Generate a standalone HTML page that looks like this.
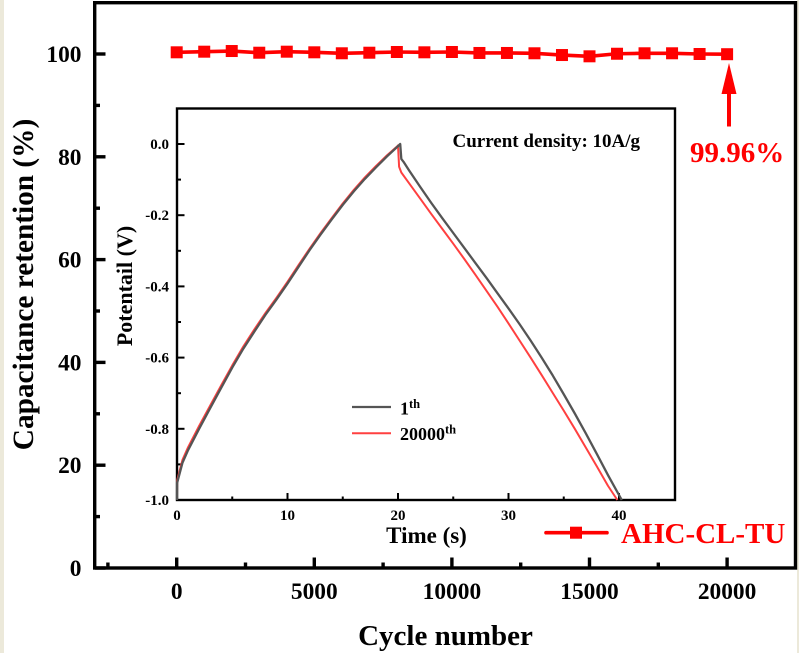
<!DOCTYPE html>
<html lang="en">
<head>
<meta charset="utf-8">
<title>Capacitance retention chart</title>
<style>
html,body{margin:0;padding:0;background:#fff;width:799px;height:653px;overflow:hidden}
svg{display:block;filter:blur(0.35px)}
text{font-family:"Liberation Serif",serif;font-weight:bold;fill:#000}
</style>
</head>
<body>
<svg id="chart" xmlns="http://www.w3.org/2000/svg" width="799" height="653" viewBox="0 0 799 653">
  <rect x="0" y="0" width="799" height="653" fill="#ffffff"/>
  <rect x="0" y="0" width="4" height="653" fill="#ece9da"/>
  <rect x="797" y="0" width="2" height="653" fill="#ece9da"/>
  <g id="main-axes"></g>
  <g id="main-series"></g>
  <g id="inset"></g>

  <text transform="translate(33,284.5) rotate(-90)" text-anchor="middle" font-size="29.3">Capacitance retention (%)</text>
  <text x="445.5" y="645" text-anchor="middle" font-size="29">Cycle number</text>

  <polygon points="729,63 736.5,94 721.5,94" fill="#ff0000"/>
  <rect x="727" y="93" width="4" height="33.5" fill="#ff0000"/>
  <text x="690" y="162" font-size="29" style="fill:#ff0000">99.96%</text>

  <line x1="546" y1="532.7" x2="607" y2="532.7" stroke="#ff0000" stroke-width="3.6" stroke-linecap="round"/>
  <rect x="570" y="526.7" width="12" height="12" fill="#ff0000"/>
  <text x="621" y="543" font-size="29" style="fill:#ff0000">AHC-CL-TU</text>

  <text transform="translate(132,286) rotate(-90)" text-anchor="middle" font-size="22">Potentail (V)</text>
  <text x="426.5" y="543" text-anchor="middle" font-size="23">Time (s)</text>
  <text x="452.5" y="147" font-size="19">Current density: 10A/g</text>

  <line x1="352" y1="407" x2="391" y2="407" stroke="#555555" stroke-width="2.3"/>
  <text x="400" y="414.3" font-size="18">1<tspan dy="-6.5" font-size="12.5">th</tspan></text>
  <line x1="352" y1="433.3" x2="391" y2="433.3" stroke="#ff4040" stroke-width="2"/>
  <text x="400" y="440" font-size="18">20000<tspan dy="-6.5" font-size="12.5">th</tspan></text>
</svg>
<script>
// Main chart data
const cycleNumbers = [0,1000,2000,3000,4000,5000,6000,7000,8000,9000,10000,11000,12000,13000,14000,15000,16000,17000,18000,19000,20000];
const retentionValues = [100.33,100.45,100.58,100.25,100.45,100.33,100.14,100.25,100.39,100.33,100.39,100.2,100.2,100.14,99.8,99.55,100.05,100.14,100.14,100,99.96];
const mainXMajorTicks = [0,5000,10000,15000,20000];
const mainXMinorTicks = [-2500,2500,7500,12500,17500];
const mainYMajorTicks = [0,20,40,60,80,100];
const mainYMinorTicks = [10,30,50,70,90];

// Inset chart data
const firstCycleTime = [0,0.01,0.5,1,2,3,4,5,6,7,8,9,10,11,12,13,14,15,16,17,18,19,20,20.2,20.3,20.5,21,22,23,24,25,26,27,28,29,30,31,32,33,34,35,36,37,38,39,40.25];
const firstCycleVoltage = [-1.0,-0.952,-0.895,-0.86,-0.8,-0.742,-0.685,-0.628,-0.575,-0.527,-0.48,-0.437,-0.392,-0.345,-0.298,-0.254,-0.212,-0.171,-0.133,-0.098,-0.066,-0.035,-0.006,0.0,-0.042,-0.05,-0.074,-0.12,-0.165,-0.208,-0.25,-0.292,-0.334,-0.376,-0.419,-0.462,-0.506,-0.552,-0.6,-0.65,-0.703,-0.757,-0.813,-0.871,-0.93,-1.0];
const lastCycleTime = [0,0.01,0.5,1,2,3,4,5,6,7,8,9,10,11,12,13,14,15,16,17,18,19,19.95,20.0,20.1,20.3,21,22,23,24,25,26,27,28,29,30,31,32,33,34,35,36,37,38,39,39.85];
const lastCycleVoltage = [-0.99,-0.945,-0.887,-0.852,-0.792,-0.735,-0.678,-0.622,-0.569,-0.521,-0.475,-0.432,-0.387,-0.34,-0.294,-0.25,-0.208,-0.167,-0.129,-0.094,-0.062,-0.032,-0.006,-0.004,-0.064,-0.08,-0.11,-0.153,-0.196,-0.238,-0.28,-0.323,-0.367,-0.412,-0.457,-0.504,-0.552,-0.6,-0.649,-0.699,-0.749,-0.8,-0.853,-0.906,-0.96,-1.0];
const insetXMajorTicks = [0,10,20,30,40];
const insetXMinorTicks = [5,15,25,35];
const insetYMajorTicks = [0,-0.2,-0.4,-0.6,-0.8,-1];
const insetYMinorTicks = [-0.1,-0.3,-0.5,-0.7,-0.9];
const insetYLabels = ['0.0','-0.2','-0.4','-0.6','-0.8','-1.0'];

const NS = 'http://www.w3.org/2000/svg';
function xMain(d){ return 176.7 + d * 0.02752; }
function yMain(v){ return 568 - v * 5.14; }
function xInset(t){ return 177 + t * 11.05; }
function yInset(v){ return 144 - v * 356; }

function make(tag, attrs, parent){
  const el = document.createElementNS(NS, tag);
  for (const k in attrs) el.setAttribute(k, attrs[k]);
  parent.appendChild(el);
  return el;
}

const mainAxes = document.getElementById('main-axes');
const mainSeries = document.getElementById('main-series');
const inset = document.getElementById('inset');

// Main frame
const mainFrame = make('rect', {x:94.7, y:2.7, width:700.8, height:565.3, fill:'none', stroke:'#000', 'stroke-width':3.4}, mainAxes);



// Main x ticks
mainXMajorTicks.forEach(function(d){
  const tick = make('line', {x1:xMain(d), x2:xMain(d), y1:568, y2:557.5, stroke:'#000', 'stroke-width':3.4}, mainAxes);
  
  
  const label = make('text', {x:xMain(d), y:599, 'text-anchor':'middle', 'font-size':23.4}, mainAxes);
  label.textContent = String(d);
  
  
});
mainXMinorTicks.forEach(function(d){
  const tick = make('line', {x1:xMain(d), x2:xMain(d), y1:568, y2:562.5, stroke:'#000', 'stroke-width':3.4}, mainAxes);
  
  
});

// Main y ticks
mainYMajorTicks.forEach(function(v){
  const tick = make('line', {x1:95, x2:105.5, y1:yMain(v), y2:yMain(v), stroke:'#000', 'stroke-width':3.4}, mainAxes);
  
  
  const label = make('text', {x:81.5, y:yMain(v) + 8, 'text-anchor':'end', 'font-size':23.4}, mainAxes);
  label.textContent = String(v);
  
  
});
mainYMinorTicks.forEach(function(v){
  const tick = make('line', {x1:95, x2:100, y1:yMain(v), y2:yMain(v), stroke:'#000', 'stroke-width':3.4}, mainAxes);
  
  
});

// Main series
const mainPoints = cycleNumbers.map(function(c, i){ return xMain(c) + ',' + yMain(retentionValues[i]); }).join(' ');
const mainLine = make('polyline', {points:mainPoints, fill:'none', stroke:'#ff0000', 'stroke-width':3.6}, mainSeries);


cycleNumbers.forEach(function(c, i){
  const marker = make('rect', {x:xMain(c) - 6, y:yMain(retentionValues[i]) - 6, width:12, height:12, fill:'#ff0000'}, mainSeries);
  
  
});

// Inset frame
const insetBack = make('rect', {x:177, y:108.5, width:498, height:391.5, fill:'#fff', stroke:'#000', 'stroke-width':2.4}, inset);



// Inset x ticks
insetXMajorTicks.forEach(function(t){
  const tick = make('line', {x1:xInset(t), x2:xInset(t), y1:500, y2:493, stroke:'#000', 'stroke-width':2}, inset);
  
  
  const label = make('text', {x:xInset(t), y:520, 'text-anchor':'middle', 'font-size':15}, inset);
  label.textContent = String(t);
  
  
});
insetXMinorTicks.forEach(function(t){
  const tick = make('line', {x1:xInset(t), x2:xInset(t), y1:500, y2:496.5, stroke:'#000', 'stroke-width':2}, inset);
  
  
});

// Inset y ticks
insetYMajorTicks.forEach(function(v, i){
  const tick = make('line', {x1:177, x2:184.5, y1:yInset(v), y2:yInset(v), stroke:'#000', 'stroke-width':2}, inset);
  
  
  const label = make('text', {x:169, y:yInset(v) + 5, 'text-anchor':'end', 'font-size':15}, inset);
  label.textContent = insetYLabels[i];
  
  
});
insetYMinorTicks.forEach(function(v){
  const tick = make('line', {x1:177, x2:181, y1:yInset(v), y2:yInset(v), stroke:'#000', 'stroke-width':2}, inset);
  
  
});

// Inset curves
const lastPoints = lastCycleTime.map(function(t, i){ return xInset(t) + ',' + yInset(lastCycleVoltage[i]); }).join(' ');
const lastCurve = make('polyline', {points:lastPoints, fill:'none', stroke:'#ff4040', 'stroke-width':2, 'stroke-linejoin':'round'}, inset);



const firstPoints = firstCycleTime.map(function(t, i){ return xInset(t) + ',' + yInset(firstCycleVoltage[i]); }).join(' ');
const firstCurve = make('polyline', {points:firstPoints, fill:'none', stroke:'#555555', 'stroke-width':2.3, 'stroke-linejoin':'round'}, inset);


</script>
</body>
</html>
